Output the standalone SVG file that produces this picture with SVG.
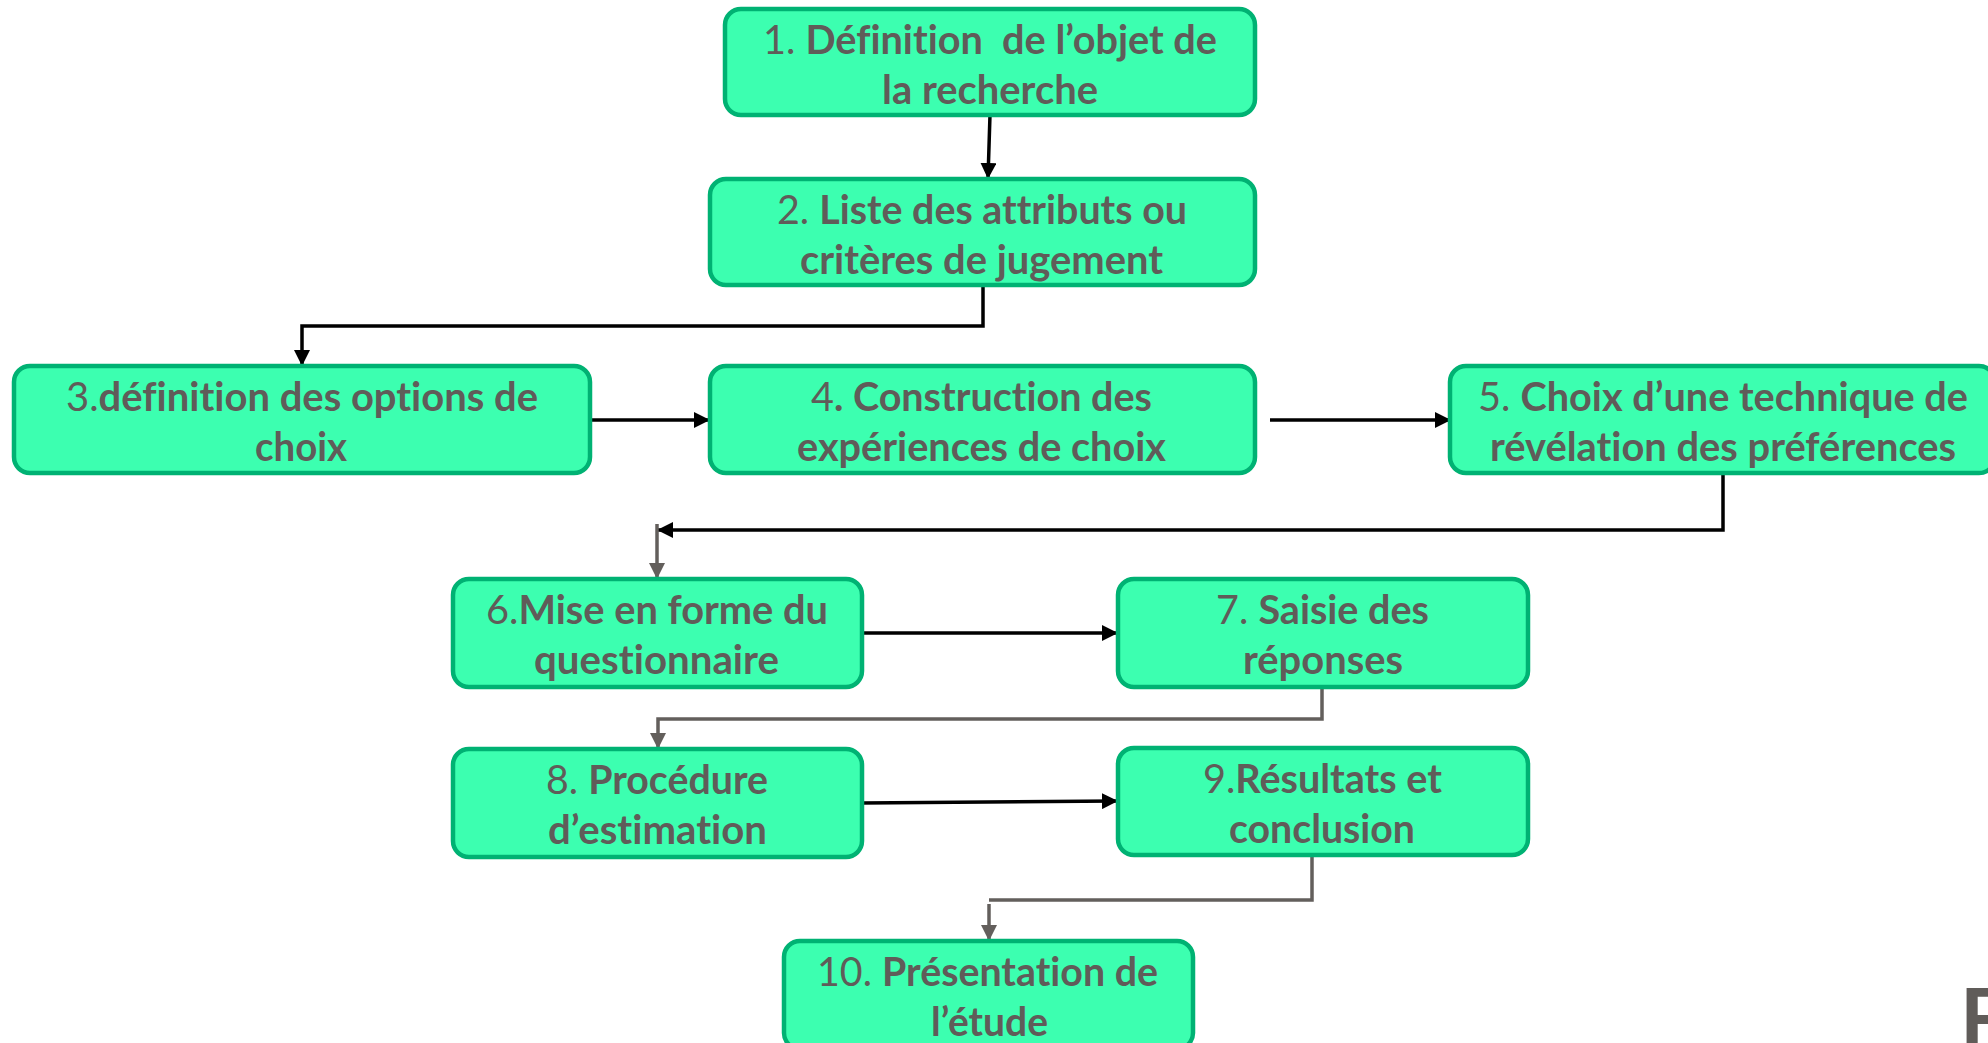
<svg xmlns="http://www.w3.org/2000/svg" width="1988" height="1043" viewBox="0 0 1988 1043">
<style>
.box{fill:#3cffb0;stroke:#00b273;stroke-width:4.5}
.t{font-family:"Lato","Open Sans","Liberation Sans",sans-serif;font-size:40px;fill:#605c59;white-space:pre;font-variant-ligatures:none;font-feature-settings:"liga" 0,"dlig" 0}
.n{font-weight:400}
.b{font-weight:700}
.ck{fill:none;stroke:#000;stroke-width:3.5}
.cg{fill:none;stroke:#635f5c;stroke-width:3.5}
</style>
<defs>
<marker id="ak" markerUnits="userSpaceOnUse" markerWidth="16" markerHeight="16" viewBox="0 0 16 16" refX="15" refY="8" orient="auto"><path d="M0,0 L16,8 L0,16 Z" fill="#000"/></marker>
<marker id="ag" markerUnits="userSpaceOnUse" markerWidth="16" markerHeight="16" viewBox="0 0 16 16" refX="15" refY="8" orient="auto"><path d="M0,0 L16,8 L0,16 Z" fill="#635f5c"/></marker>
</defs>
<rect width="1988" height="1043" fill="#fff"/>
<g id="connectors">
<path class="ck" d="M990,115 L988,178" marker-end="url(#ak)"/>
<path class="ck" d="M983,285 L983,326 L302,326 L302,365" marker-end="url(#ak)"/>
<path class="ck" d="M590,420 L709,420" marker-end="url(#ak)"/>
<path class="ck" d="M1270,420 L1450,420" marker-end="url(#ak)"/>
<path class="ck" d="M1723,473 L1723,530 L658,530" marker-end="url(#ak)"/>
<path class="cg" d="M657,524 L657,578" marker-end="url(#ag)"/>
<path class="ck" d="M862,633 L1117,633" marker-end="url(#ak)"/>
<path class="cg" d="M1322,687 L1322,719 L658,719 L658,748" marker-end="url(#ag)"/>
<path class="ck" d="M862,803 L1117,801" marker-end="url(#ak)"/>
<path class="cg" d="M1495,852 L1312,852 L1312,900 L989,900"/>
<path class="cg" d="M989,904 L989,940" marker-end="url(#ag)"/>
</g>
<g id="n1"><rect class="box" x="725" y="9" width="530" height="106" rx="16"/>
<text class="t" x="763" y="54" textLength="454" lengthAdjust="spacingAndGlyphs"><tspan class="n">1. </tspan><tspan class="b">Définition  de l’objet de</tspan></text>
<text class="t b" x="882" y="104" textLength="216" lengthAdjust="spacingAndGlyphs">la recherche</text></g>
<g id="n2"><rect class="box" x="710" y="179" width="545" height="106" rx="16"/>
<text class="t" x="777" y="224" textLength="410" lengthAdjust="spacingAndGlyphs"><tspan class="n">2. </tspan><tspan class="b">Liste des attributs ou</tspan></text>
<text class="t b" x="800" y="274" textLength="363" lengthAdjust="spacingAndGlyphs">critères de jugement</text></g>
<g id="n3"><rect class="box" x="14" y="366" width="576" height="107" rx="16"/>
<text class="t" x="66" y="411" textLength="472" lengthAdjust="spacingAndGlyphs"><tspan class="n">3.</tspan><tspan class="b">définition des options de</tspan></text>
<text class="t b" x="255" y="461" textLength="92" lengthAdjust="spacingAndGlyphs">choix</text></g>
<g id="n4"><rect class="box" x="710" y="366" width="545" height="107" rx="16"/>
<text class="t" x="811" y="411" textLength="341" lengthAdjust="spacingAndGlyphs"><tspan class="n">4</tspan><tspan class="b">. Construction des</tspan></text>
<text class="t b" x="797" y="461" textLength="369" lengthAdjust="spacingAndGlyphs">expériences de choix</text></g>
<g id="n5"><rect class="box" x="1450" y="366" width="545" height="107" rx="16"/>
<text class="t" x="1478" y="411" textLength="490" lengthAdjust="spacingAndGlyphs"><tspan class="n">5. </tspan><tspan class="b">Choix d’une technique de</tspan></text>
<text class="t b" x="1490" y="461" textLength="466" lengthAdjust="spacingAndGlyphs">révélation des préférences</text></g>
<g id="n6"><rect class="box" x="453" y="579" width="409" height="108" rx="16"/>
<text class="t" x="486" y="624" textLength="342" lengthAdjust="spacingAndGlyphs"><tspan class="n">6.</tspan><tspan class="b">Mise en forme du</tspan></text>
<text class="t b" x="534" y="674" textLength="245" lengthAdjust="spacingAndGlyphs">questionnaire</text></g>
<g id="n7"><rect class="box" x="1118" y="579" width="410" height="108" rx="16"/>
<text class="t" x="1216" y="624" textLength="213" lengthAdjust="spacingAndGlyphs"><tspan class="n">7. </tspan><tspan class="b">Saisie des</tspan></text>
<text class="t b" x="1243" y="674" textLength="160" lengthAdjust="spacingAndGlyphs">réponses</text></g>
<g id="n8"><rect class="box" x="453" y="749" width="409" height="108" rx="16"/>
<text class="t" x="546" y="794" textLength="222" lengthAdjust="spacingAndGlyphs"><tspan class="n">8. </tspan><tspan class="b">Procédure</tspan></text>
<text class="t b" x="548" y="844" textLength="219" lengthAdjust="spacingAndGlyphs">d’estimation</text></g>
<g id="n9"><rect class="box" x="1118" y="748" width="410" height="107" rx="16"/>
<text class="t" x="1203" y="793" textLength="239" lengthAdjust="spacingAndGlyphs"><tspan class="n">9.</tspan><tspan class="b">Résultats et</tspan></text>
<text class="t b" x="1229" y="843" textLength="186" lengthAdjust="spacingAndGlyphs">conclusion</text></g>
<g id="n10"><rect class="box" x="784" y="941" width="409" height="108" rx="16"/>
<text class="t" x="817" y="986" textLength="341" lengthAdjust="spacingAndGlyphs"><tspan class="n">10. </tspan><tspan class="b">Présentation de</tspan></text>
<text class="t b" x="931" y="1036" textLength="117" lengthAdjust="spacingAndGlyphs">l’étude</text></g>
<text x="1960" y="1048" font-family="Lato,'Liberation Sans',sans-serif" font-weight="700" font-size="82" fill="#605c59">F</text>
</svg>
